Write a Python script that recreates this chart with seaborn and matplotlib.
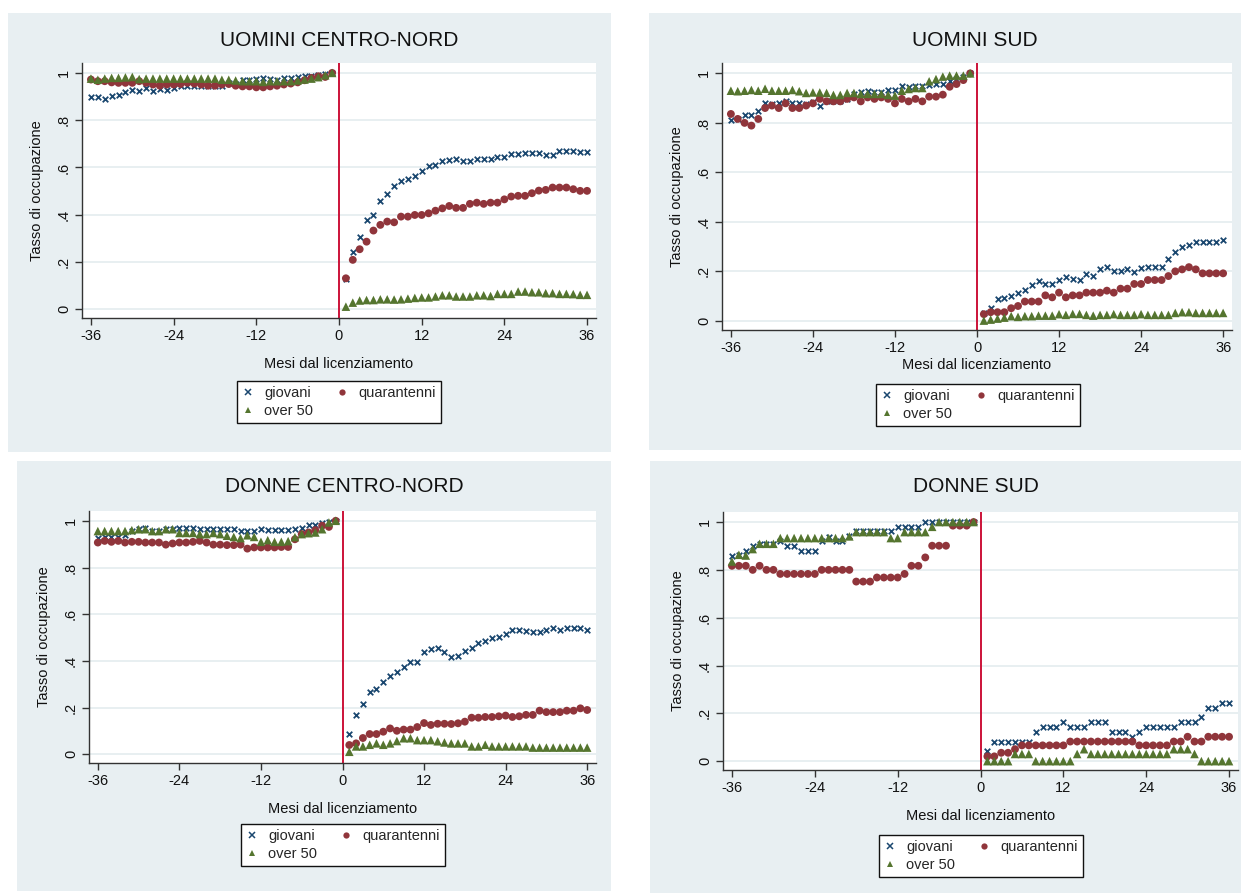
import numpy as np
import pandas as pd
import matplotlib
matplotlib.use("Agg")
import matplotlib.pyplot as plt
import seaborn as sns
from matplotlib.lines import Line2D
from matplotlib.patches import Rectangle

sns.set_theme(style="white")
plt.rcParams['font.family'] = ['Liberation Sans', 'DejaVu Sans']

# ---------------- data ----------------
months_pre = list(range(-36, 0))
months_post = list(range(1, 37))
months = months_pre + months_post

series_names = ["giovani", "quarantenni", "over 50"]
panel_titles = ["UOMINI CENTRO-NORD", "UOMINI SUD", "DONNE CENTRO-NORD", "DONNE SUD"]
x_ticks = [-36, -24, -12, 0, 12, 24, 36]
y_ticks = [0, 0.2, 0.4, 0.6, 0.8, 1.0]
y_tick_labels = ["0", ".2", ".4", ".6", ".8", "1"]
x_label = "Mesi dal licenziamento"
y_label = "Tasso di occupazione"

# UOMINI CENTRO-NORD
ucn_giovani_pre = [0.898, 0.898, 0.891, 0.901, 0.908, 0.918, 0.929, 0.922, 0.936, 0.925, 0.932, 0.929,
                   0.936, 0.943, 0.943, 0.943, 0.946, 0.943, 0.946, 0.946, 0.958, 0.955, 0.972, 0.972,
                   0.975, 0.979, 0.975, 0.972, 0.979, 0.979, 0.982, 0.985, 0.988, 0.991, 0.997, 1.0]
ucn_giovani_post = [0.13, 0.243, 0.307, 0.377, 0.398, 0.456, 0.488, 0.52, 0.542, 0.55, 0.563, 0.587,
                    0.605, 0.611, 0.629, 0.632, 0.635, 0.629, 0.628, 0.636, 0.636, 0.635, 0.646, 0.646,
                    0.657, 0.657, 0.66, 0.66, 0.66, 0.653, 0.653, 0.668, 0.671, 0.668, 0.667, 0.667]
ucn_quar_pre = [0.972, 0.965, 0.965, 0.96, 0.958, 0.958, 0.958, 0.965, 0.958, 0.951, 0.946, 0.951,
                0.951, 0.953, 0.958, 0.955, 0.951, 0.946, 0.946, 0.951, 0.953, 0.946, 0.943, 0.943,
                0.939, 0.939, 0.943, 0.946, 0.951, 0.955, 0.96, 0.969, 0.979, 0.986, 0.983, 1.0]
ucn_quar_post = [0.131, 0.209, 0.254, 0.286, 0.333, 0.357, 0.371, 0.368, 0.392, 0.392, 0.399, 0.399,
                 0.406, 0.417, 0.427, 0.437, 0.429, 0.429, 0.446, 0.451, 0.446, 0.451, 0.451, 0.465,
                 0.477, 0.48, 0.48, 0.491, 0.502, 0.505, 0.515, 0.515, 0.515, 0.508, 0.501, 0.501]
ucn_over_pre = [0.976, 0.971, 0.976, 0.979, 0.979, 0.981, 0.983, 0.974, 0.976, 0.976, 0.976, 0.976,
                0.976, 0.976, 0.976, 0.976, 0.976, 0.976, 0.976, 0.971, 0.971, 0.968, 0.965, 0.965,
                0.965, 0.962, 0.965, 0.965, 0.965, 0.965, 0.968, 0.972, 0.976, 0.982, 0.99, 1.0]
ucn_over_post = [0.011, 0.028, 0.037, 0.039, 0.039, 0.042, 0.042, 0.041, 0.042, 0.045, 0.048, 0.05,
                 0.05, 0.054, 0.059, 0.059, 0.054, 0.054, 0.054, 0.059, 0.059, 0.056, 0.065, 0.065,
                 0.065, 0.075, 0.075, 0.072, 0.072, 0.068, 0.068, 0.065, 0.065, 0.064, 0.061, 0.061]

# UOMINI SUD
us_giovani_pre = [0.812, 0.816, 0.83, 0.83, 0.85, 0.879, 0.877, 0.879, 0.887, 0.879, 0.879, 0.877,
                  0.883, 0.87, 0.89, 0.887, 0.887, 0.897, 0.917, 0.923, 0.928, 0.923, 0.923, 0.933,
                  0.933, 0.95, 0.946, 0.95, 0.95, 0.954, 0.957, 0.957, 0.968, 0.977, 0.987, 1.0]
us_giovani_post = [0.03, 0.051, 0.087, 0.091, 0.102, 0.114, 0.125, 0.145, 0.161, 0.149, 0.149, 0.165,
                   0.177, 0.17, 0.165, 0.188, 0.181, 0.208, 0.219, 0.203, 0.203, 0.208, 0.197, 0.212,
                   0.219, 0.219, 0.219, 0.251, 0.277, 0.299, 0.305, 0.317, 0.319, 0.319, 0.319, 0.326]
us_quar_pre = [0.836, 0.816, 0.8, 0.789, 0.816, 0.86, 0.87, 0.86, 0.879, 0.86, 0.86, 0.87,
               0.879, 0.897, 0.887, 0.887, 0.887, 0.897, 0.903, 0.887, 0.903, 0.897, 0.903, 0.897,
               0.879, 0.897, 0.887, 0.897, 0.887, 0.906, 0.906, 0.914, 0.946, 0.957, 0.973, 1.0]
us_quar_post = [0.027, 0.035, 0.035, 0.035, 0.051, 0.06, 0.078, 0.078, 0.078, 0.103, 0.095, 0.114,
                0.095, 0.103, 0.103, 0.114, 0.114, 0.114, 0.122, 0.114, 0.13, 0.13, 0.149, 0.149,
                0.165, 0.165, 0.165, 0.181, 0.2, 0.208, 0.217, 0.208, 0.192, 0.192, 0.192, 0.192]
us_over_pre = [0.93, 0.928, 0.93, 0.933, 0.93, 0.938, 0.93, 0.93, 0.93, 0.933, 0.928, 0.921,
               0.923, 0.923, 0.921, 0.913, 0.913, 0.921, 0.921, 0.917, 0.917, 0.917, 0.917, 0.913,
               0.91, 0.93, 0.937, 0.941, 0.941, 0.968, 0.977, 0.987, 0.991, 0.991, 0.991, 1.0]
us_over_post = [0.001, 0.005, 0.009, 0.013, 0.019, 0.016, 0.019, 0.019, 0.021, 0.021, 0.021, 0.027,
                0.024, 0.028, 0.028, 0.024, 0.021, 0.024, 0.024, 0.027, 0.024, 0.024, 0.024, 0.027,
                0.024, 0.024, 0.024, 0.024, 0.032, 0.035, 0.035, 0.032, 0.032, 0.032, 0.032, 0.032]

# DONNE CENTRO-NORD
dcn_giovani_pre = [0.928, 0.931, 0.931, 0.931, 0.941, 0.957, 0.964, 0.971, 0.957, 0.957, 0.964, 0.964,
                   0.969, 0.969, 0.971, 0.964, 0.964, 0.964, 0.964, 0.964, 0.964, 0.957, 0.957, 0.957,
                   0.964, 0.961, 0.961, 0.961, 0.961, 0.964, 0.97, 0.981, 0.981, 0.99, 0.993, 1.0]
dcn_giovani_post = [0.087, 0.169, 0.214, 0.266, 0.28, 0.311, 0.334, 0.351, 0.373, 0.397, 0.397, 0.437,
                    0.449, 0.454, 0.437, 0.416, 0.423, 0.443, 0.456, 0.477, 0.487, 0.497, 0.503, 0.516,
                    0.533, 0.534, 0.529, 0.526, 0.526, 0.534, 0.54, 0.534, 0.541, 0.541, 0.541, 0.534]
dcn_quar_pre = [0.907, 0.914, 0.91, 0.914, 0.907, 0.91, 0.91, 0.907, 0.907, 0.907, 0.898, 0.903,
                0.907, 0.907, 0.91, 0.914, 0.907, 0.898, 0.898, 0.896, 0.896, 0.898, 0.881, 0.886,
                0.886, 0.886, 0.886, 0.888, 0.888, 0.921, 0.943, 0.95, 0.96, 0.979, 0.974, 1.0]
dcn_quar_post = [0.04, 0.047, 0.07, 0.087, 0.087, 0.097, 0.111, 0.101, 0.106, 0.106, 0.117, 0.134,
                 0.126, 0.131, 0.131, 0.13, 0.133, 0.14, 0.157, 0.157, 0.16, 0.16, 0.163, 0.166,
                 0.16, 0.163, 0.169, 0.169, 0.187, 0.181, 0.181, 0.181, 0.187, 0.187, 0.197, 0.19]
dcn_over_pre = [0.956, 0.956, 0.956, 0.956, 0.956, 0.96, 0.964, 0.964, 0.956, 0.956, 0.964, 0.964,
                0.948, 0.948, 0.948, 0.943, 0.943, 0.948, 0.943, 0.936, 0.931, 0.926, 0.938, 0.931,
                0.91, 0.917, 0.91, 0.91, 0.913, 0.93, 0.943, 0.947, 0.95, 0.964, 0.993, 1.0]
dcn_over_post = [0.011, 0.034, 0.034, 0.041, 0.047, 0.041, 0.047, 0.057, 0.069, 0.069, 0.061, 0.061,
                 0.061, 0.056, 0.051, 0.047, 0.047, 0.047, 0.034, 0.034, 0.041, 0.034, 0.034, 0.034,
                 0.034, 0.034, 0.034, 0.029, 0.029, 0.029, 0.029, 0.029, 0.029, 0.029, 0.029, 0.029]

# DONNE SUD
ds_giovani_pre = [0.856, 0.863, 0.877, 0.9, 0.909, 0.909, 0.909, 0.922, 0.9, 0.9, 0.88, 0.88,
                  0.88, 0.922, 0.937, 0.922, 0.922, 0.94, 0.961, 0.961, 0.961, 0.961, 0.961, 0.961,
                  0.98, 0.98, 0.98, 0.98, 1.0, 1.0, 1.0, 1.0, 1.0, 1.0, 1.0, 1.0]
ds_giovani_post = [0.042, 0.082, 0.082, 0.082, 0.082, 0.082, 0.082, 0.121, 0.142, 0.142, 0.142, 0.163,
                   0.142, 0.142, 0.142, 0.163, 0.163, 0.163, 0.121, 0.121, 0.121, 0.102, 0.121, 0.142,
                   0.142, 0.142, 0.142, 0.142, 0.163, 0.163, 0.163, 0.184, 0.223, 0.223, 0.245, 0.245]
ds_quar_pre = [0.817, 0.817, 0.817, 0.8, 0.817, 0.8, 0.8, 0.783, 0.783, 0.783, 0.783, 0.783,
               0.783, 0.8, 0.8, 0.8, 0.8, 0.8, 0.751, 0.751, 0.751, 0.768, 0.768, 0.768,
               0.768, 0.783, 0.817, 0.817, 0.852, 0.901, 0.901, 0.901, 0.985, 0.985, 0.985, 1.0]
ds_quar_post = [0.02, 0.02, 0.035, 0.035, 0.05, 0.066, 0.066, 0.066, 0.066, 0.066, 0.066, 0.066,
                0.082, 0.082, 0.082, 0.082, 0.082, 0.082, 0.082, 0.082, 0.082, 0.082, 0.066, 0.066,
                0.066, 0.066, 0.066, 0.082, 0.082, 0.102, 0.082, 0.082, 0.102, 0.102, 0.102, 0.102]
ds_over_pre = [0.835, 0.863, 0.86, 0.887, 0.909, 0.909, 0.909, 0.933, 0.933, 0.933, 0.933, 0.933,
               0.933, 0.933, 0.933, 0.933, 0.933, 0.94, 0.958, 0.958, 0.958, 0.958, 0.958, 0.933,
               0.933, 0.958, 0.958, 0.958, 0.958, 0.98, 1.0, 1.0, 1.0, 1.0, 1.0, 1.0]
ds_over_post = [0.0, 0.0, 0.0, 0.0, 0.03, 0.03, 0.03, 0.0, 0.0, 0.0, 0.0, 0.0,
                0.0, 0.03, 0.05, 0.03, 0.03, 0.03, 0.03, 0.03, 0.03, 0.03, 0.03, 0.03,
                0.03, 0.03, 0.03, 0.05, 0.05, 0.05, 0.03, 0.0, 0.0, 0.0, 0.0, 0.0]

panel_data = [
    (ucn_giovani_pre + ucn_giovani_post, ucn_quar_pre + ucn_quar_post, ucn_over_pre + ucn_over_post),
    (us_giovani_pre + us_giovani_post, us_quar_pre + us_quar_post, us_over_pre + us_over_post),
    (dcn_giovani_pre + dcn_giovani_post, dcn_quar_pre + dcn_quar_post, dcn_over_pre + dcn_over_post),
    (ds_giovani_pre + ds_giovani_post, ds_quar_pre + ds_quar_post, ds_over_pre + ds_over_post),
]

# ---------------- style ----------------
W, H = 1242, 893
BG = '#E8EFF2'
GRID = '#E4ECEF'
colors = {"giovani": "#1A476F", "quarantenni": "#90353B", "over 50": "#55752F"}
markers = {"giovani": "x", "quarantenni": "o", "over 50": "^"}
sizes = {"giovani": 16, "quarantenni": 32, "over 50": 38}
VLINE = '#CC1238'

# layout in pixels: background box, axes box (l, t, r, b), title y, xlabel pad, legend centre
layout = [
    dict(bg=(8, 13, 611, 452), ax=(82, 63, 596, 318), ty=40, xpad=10, leg=(339, 402)),
    dict(bg=(649, 13, 1241, 450), ax=(722, 63, 1232, 330), ty=40, xpad=2, leg=(978, 405)),
    dict(bg=(17, 461, 611, 891), ax=(89, 511, 596, 763), ty=487, xpad=10, leg=(343, 845)),
    dict(bg=(650, 461, 1241, 893), ax=(723, 512, 1238, 770), ty=487, xpad=10, leg=(981, 856)),
]

fig = plt.figure(figsize=(W / 100, H / 100), dpi=100, facecolor='white')

for i, (title, data, lay) in enumerate(zip(panel_titles, panel_data, layout)):
    x0, y0, x1, y1 = lay['bg']
    fig.patches.append(Rectangle((x0 / W, 1 - y1 / H), (x1 - x0) / W, (y1 - y0) / H,
                                 transform=fig.transFigure, facecolor=BG, edgecolor='none', zorder=-5))
    l, t, r, b = lay['ax']
    ax = fig.add_axes([l / W, 1 - b / H, (r - l) / W, (b - t) / H])
    ax.set_facecolor('white')

    df = pd.DataFrame({"mese": months * 3,
                       "tasso": list(data[0]) + list(data[1]) + list(data[2]),
                       "gruppo": [n for n in series_names for _ in months]})
    for name in series_names:
        sub = df[df["gruppo"] == name]
        if markers[name] == "x":
            sns.scatterplot(data=sub, x="mese", y="tasso", marker="x", color=colors[name],
                            s=sizes[name], linewidth=1.3, ax=ax, zorder=3, legend=False)
        else:
            sns.scatterplot(data=sub, x="mese", y="tasso", marker=markers[name], color=colors[name],
                            s=sizes[name], linewidth=0, edgecolor='none', ax=ax, zorder=3, legend=False)

    ax.axvline(0, color=VLINE, lw=1.4, zorder=2)
    ax.set_xlim(-37.3, 37.3)
    ax.set_ylim(-0.037, 1.042)
    ax.set_xticks(x_ticks)
    ax.set_xticklabels([str(v) for v in x_ticks])
    ax.set_yticks(y_ticks)
    ax.set_yticklabels(y_tick_labels, rotation=90, va='center')
    ax.yaxis.grid(True, color=GRID, lw=1.2)
    ax.xaxis.grid(False)
    ax.set_axisbelow(True)
    for s in ['top', 'right']:
        ax.spines[s].set_visible(False)
    for s in ['left', 'bottom']:
        ax.spines[s].set_color('#333333')
        ax.spines[s].set_linewidth(1.0)
    ax.tick_params(axis='both', direction='out', length=5, width=1.0, color='#333333',
                   labelsize=10.5, labelcolor='#111111', pad=3, left=True, bottom=True)
    ax.set_xlabel(x_label, fontsize=10.5, color='#111111', labelpad=lay['xpad'])
    ax.set_ylabel(y_label, fontsize=10.5, color='#111111', labelpad=9)

    fig.text(((x0 + x1) / 2 + 30) / W, 1 - lay['ty'] / H, title, ha='center', va='center',
             fontsize=15, color='#111111')

    handles = [
        Line2D([], [], marker='x', color=colors["giovani"], linestyle='none', markersize=4,
               markeredgewidth=1.1),
        Line2D([], [], marker='^', color=colors["over 50"], linestyle='none', markersize=5,
               markeredgewidth=0),
        Line2D([], [], marker='o', color=colors["quarantenni"], linestyle='none', markersize=4.5,
               markeredgewidth=0),
    ]
    labels = ["giovani", "over 50", "quarantenni"]
    cx, cy = lay['leg']
    leg = ax.legend(handles, labels, ncol=2, loc='center', bbox_to_anchor=(cx / W, 1 - cy / H),
                    bbox_transform=fig.transFigure, frameon=True, fancybox=False, framealpha=1,
                    edgecolor='#111111', facecolor='white', fontsize=10.5, handlelength=0.8,
                    handletextpad=0.7, columnspacing=1.6, borderpad=0.35, labelspacing=0.25)
    leg.get_frame().set_linewidth(1.0)

fig.savefig("out.png", dpi=100, facecolor='white')
